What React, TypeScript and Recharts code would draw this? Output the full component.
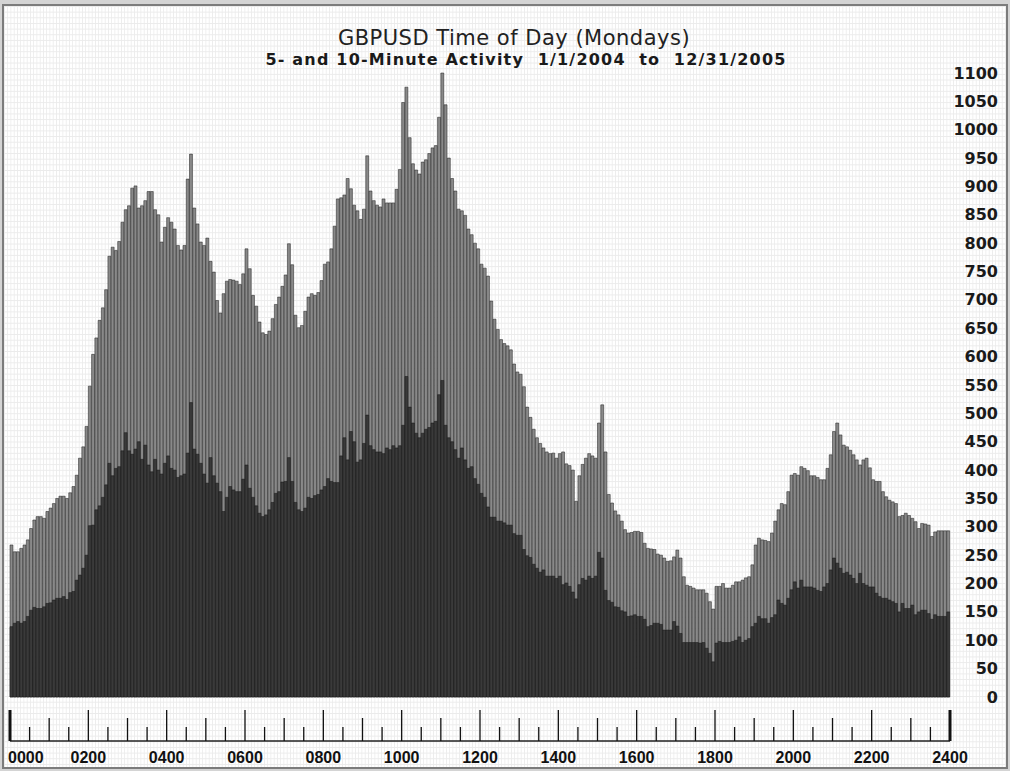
import { BarChart, Bar, XAxis, YAxis } from "recharts"

// ── Values: one entry per 5-minute slot, 0000 → 2355 ──

const HOUR_LABELS = [
  "0000", "0200", "0400", "0600", "0800", "1000", "1200",
  "1400", "1600", "1800", "2000", "2200", "2400",
]

const Y_TICKS = [
  0, 50, 100, 150, 200, 250, 300, 350, 400, 450, 500, 550,
  600, 650, 700, 750, 800, 850, 900, 950, 1000, 1050, 1100,
]

// grey bars – 10-minute activity (one row per hour)
const ACTIVITY_10 = [
  268, 256, 256, 262, 268, 277, 297, 312, 318, 318, 315, 327,
  333, 341, 350, 354, 354, 350, 360, 371, 391, 421, 441, 477,
  548, 604, 633, 664, 686, 718, 777, 793, 787, 803, 837, 859,
  866, 897, 901, 862, 866, 875, 891, 891, 859, 850, 802, 828,
  845, 837, 825, 796, 788, 796, 913, 957, 862, 834, 802, 796,
  809, 768, 749, 699, 677, 711, 733, 736, 735, 733, 727, 746,
  790, 755, 708, 689, 661, 642, 639, 645, 667, 692, 705, 724,
  744, 799, 762, 673, 651, 655, 680, 705, 711, 708, 713, 734,
  763, 767, 790, 830, 878, 880, 885, 914, 896, 867, 857, 842,
  860, 954, 892, 875, 867, 864, 878, 871, 871, 871, 895, 930,
  1048, 1075, 986, 940, 929, 922, 943, 947, 958, 968, 972, 1022,
  1100, 1044, 950, 914, 892, 860, 857, 849, 825, 815, 800, 790,
  763, 756, 742, 698, 666, 648, 630, 623, 619, 612, 587, 573,
  569, 547, 511, 493, 472, 457, 447, 439, 432, 429, 430, 421,
  429, 432, 411, 408, 400, 345, 390, 410, 421, 429, 425, 421,
  483, 515, 432, 357, 342, 328, 321, 310, 295, 289, 290, 292,
  292, 290, 271, 262, 261, 260, 252, 250, 245, 239, 240, 247,
  259, 245, 212, 197, 195, 192, 189, 189, 189, 183, 168, 155,
  195, 195, 200, 192, 192, 197, 203, 203, 206, 210, 212, 233,
  268, 280, 277, 276, 274, 289, 310, 330, 341, 339, 362, 391,
  394, 391, 406, 403, 399, 390, 390, 387, 383, 383, 403, 427,
  468, 483, 462, 444, 441, 435, 427, 418, 409, 418, 421, 404,
  383, 380, 380, 362, 353, 347, 344, 341, 318, 320, 324, 320,
  315, 309, 297, 306, 305, 303, 283, 291, 293, 293, 293, 293,
]

// dark bars – 5-minute activity (one row per hour)
const ACTIVITY_5 = [
  124, 130, 133, 130, 133, 142, 153, 158, 156, 156, 159, 165,
  166, 171, 174, 174, 177, 172, 184, 186, 206, 215, 227, 250,
  302, 303, 330, 337, 352, 374, 412, 390, 403, 406, 434, 466,
  434, 428, 437, 450, 419, 444, 409, 397, 419, 400, 393, 412,
  425, 403, 400, 387, 390, 393, 430, 519, 437, 428, 412, 393,
  377, 422, 390, 377, 362, 327, 352, 371, 365, 362, 362, 384,
  409, 368, 352, 337, 324, 318, 321, 330, 343, 359, 362, 379,
  380, 422, 380, 343, 330, 327, 333, 352, 350, 355, 357, 365,
  371, 385, 380, 378, 378, 425, 457, 418, 468, 450, 414, 418,
  447, 497, 443, 436, 432, 432, 429, 439, 436, 443, 439, 443,
  479, 565, 511, 483, 465, 457, 465, 472, 475, 483, 486, 533,
  558, 479, 457, 450, 436, 421, 439, 418, 403, 406, 385, 375,
  359, 352, 335, 317, 317, 310, 310, 307, 303, 303, 288, 285,
  285, 260, 249, 246, 234, 227, 220, 224, 213, 213, 213, 209,
  213, 198, 201, 195, 185, 173, 198, 209, 206, 213, 209, 213,
  255, 245, 188, 170, 167, 159, 158, 152, 150, 142, 143, 145,
  142, 142, 137, 124, 126, 130, 130, 128, 118, 118, 118, 133,
  125, 112, 96, 96, 96, 96, 96, 95, 96, 86, 77, 62,
  95, 98, 96, 96, 96, 98, 100, 106, 96, 100, 103, 124,
  130, 142, 138, 138, 130, 140, 145, 171, 165, 162, 174, 189,
  203, 192, 206, 194, 194, 194, 192, 188, 186, 194, 200, 224,
  245, 236, 227, 218, 220, 215, 209, 200, 218, 200, 197, 194,
  194, 183, 177, 174, 174, 171, 168, 165, 150, 165, 156, 156,
  162, 145, 150, 153, 153, 147, 137, 145, 142, 142, 142, 150,
]

// ── Layout ─────────────────────────────────────────────────────────────────

const W = 1010
const H = 771
const PLOT_LEFT = 10
const PLOT_RIGHT = 950
const PLOT_TOP = 73
const RULER_H = 74
const PLOT_BOTTOM = H - RULER_H
const RULER_BASE = PLOT_BOTTOM + 44
const PLOT_W = PLOT_RIGHT - PLOT_LEFT
const SLOTS = ACTIVITY_10.length
const SLOT_W = PLOT_W / SLOTS

// half-hour ruler marks (in slot units)
const RULER_TICKS = Array.from({ length: SLOTS / 6 + 1 }, (_, i) => i * 6)

const data = ACTIVITY_10.map((v, i) => ({
  slot: i,
  act10: v,
  act5: ACTIVITY_5[i],
}))

// ── Ticks ──────────────────────────────────────────────────────────────────

function YTick(props: any) {
  const { y, payload } = props
  return (
    <text
      x={W - 12}
      y={y}
      dy={5.5}
      textAnchor="end"
      fontFamily="'DejaVu Sans', Verdana, sans-serif"
      fontWeight="bold"
      fontSize={16}
      fill="#1a1a1a"
    >
      {payload.value}
    </text>
  )
}

function RulerTick(props: any) {
  const { x, payload } = props
  const v: number = payload.value
  const base = RULER_BASE
  const isEnd = v === 0 || v === SLOTS
  const len = v % 24 === 0 ? 31 : v % 12 === 0 ? 23 : 14
  const label = v % 24 === 0 ? HOUR_LABELS[v / 24] : null
  return (
    <g>
      {v === 0 && (
        <line x1={x} x2={x + PLOT_W} y1={base} y2={base} stroke="#222" strokeWidth={1.5} />
      )}
      <line
        x1={x}
        x2={x}
        y1={base - len}
        y2={base}
        stroke="#111"
        strokeWidth={isEnd ? 3 : 1.3}
      />
      {label && (
        <text
          x={v === 0 ? x - 2 : x}
          y={base + 22}
          textAnchor={v === 0 ? "start" : "middle"}
          fontFamily="'Liberation Sans', Arial, sans-serif"
          fontWeight="bold"
          fontSize={16}
          fill="#111"
        >
          {label}
        </text>
      )}
    </g>
  )
}

// ── Main export ────────────────────────────────────────────────────────────

export default function App() {
  return (
    <div
      style={{
        position: "absolute",
        left: 0,
        top: 0,
        width: W,
        height: H,
        overflow: "hidden",
        background: "#d4d4d4",
      }}
    >
      <div
        style={{
          position: "absolute",
          left: 2,
          top: 4,
          width: W - 8,
          height: H - 10,
          border: "2px solid #7c7c7c",
          backgroundColor: "#ffffff",
          backgroundImage:
            "linear-gradient(to right, #ebebeb 1px, transparent 1px), linear-gradient(to bottom, #ebebeb 1px, transparent 1px)",
          backgroundSize: `${SLOT_W}px 5.67px`,
        }}
      />
      <div
        style={{
          position: "absolute",
          left: 214,
          top: 25,
          width: 600,
          textAlign: "center",
          fontFamily: "'DejaVu Sans', Verdana, sans-serif",
          fontSize: 21,
          letterSpacing: 0.5,
          color: "#222",
          lineHeight: "26px",
        }}
      >
        GBPUSD Time of Day (Mondays)
      </div>
      <div
        style={{
          position: "absolute",
          left: 226,
          top: 50,
          width: 600,
          textAlign: "center",
          fontFamily: "'DejaVu Sans', Verdana, sans-serif",
          fontWeight: "bold",
          fontSize: 16,
          letterSpacing: 1.2,
          color: "#1a1a1a",
          whiteSpace: "pre",
          lineHeight: "20px",
        }}
      >
        {"5- and 10-Minute Activity  1/1/2004  to  12/31/2005"}
      </div>
      <div style={{ position: "absolute", left: 0, top: 0 }}>
        <BarChart
          width={W}
          height={H}
          data={data}
          margin={{ top: PLOT_TOP, right: 0, bottom: 0, left: PLOT_LEFT }}
          barCategoryGap={0}
          barGap={0}
        >
          <XAxis xAxisId="g" dataKey="slot" hide />
          <XAxis xAxisId="d" dataKey="slot" hide />
          <XAxis
            xAxisId="ruler"
            type="number"
            dataKey="slot"
            domain={[0, SLOTS]}
            ticks={RULER_TICKS}
            interval={0}
            height={RULER_H}
            axisLine={false}
            tickLine={false}
            tickSize={0}
            tickMargin={0}
            tick={<RulerTick />}
          />
          <YAxis
            orientation="right"
            width={W - PLOT_RIGHT}
            domain={[0, 1100]}
            ticks={Y_TICKS}
            interval={0}
            axisLine={false}
            tickLine={false}
            tick={<YTick />}
          />
          <Bar
            xAxisId="g"
            dataKey="act10"
            fill="#898989"
            stroke="#1a1a1a"
            strokeWidth={0.5}
            barSize={SLOT_W}
            isAnimationActive={false}
          />
          <Bar
            xAxisId="d"
            dataKey="act5"
            fill="#3a3a3a"
            stroke="#151515"
            strokeWidth={0.5}
            barSize={SLOT_W}
            isAnimationActive={false}
          />
        </BarChart>
      </div>
    </div>
  )
}
